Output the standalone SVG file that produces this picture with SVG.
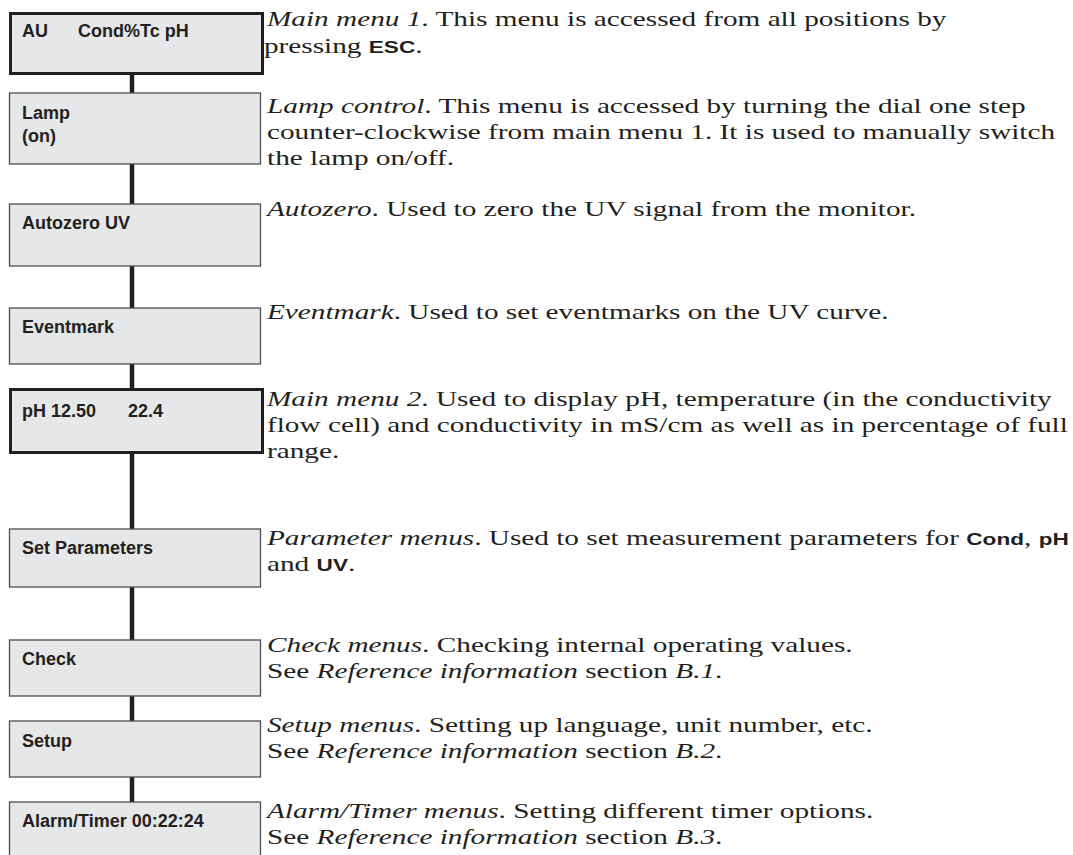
<svg xmlns="http://www.w3.org/2000/svg" width="1073" height="855" viewBox="0 0 1073 855">
<style>
.box{fill:#e6e7e8;stroke:#4d4d4f;stroke-width:1.3}
.main{fill:#e6e7e8;stroke:#231f20;stroke-width:3}
.lbl{font-family:"Liberation Sans",Arial,sans-serif;font-weight:bold;font-size:18px;fill:#231f20}
.d{font-family:"Liberation Serif","Times New Roman",serif;font-size:22px;fill:#231f20}
.i{font-style:italic}
.b{font-family:"Liberation Sans",Arial,sans-serif;font-weight:bold;font-size:17px}
.c{stroke:#231f20;stroke-width:4.5;fill:none}
</style>
<rect width="1073" height="855" fill="#ffffff"/>
<g id="connectors">
<line class="c" x1="132" y1="74" x2="132" y2="93"/>
<line class="c" x1="132" y1="164" x2="132" y2="204"/>
<line class="c" x1="132" y1="266" x2="132" y2="308"/>
<line class="c" x1="132" y1="364" x2="132" y2="389"/>
<line class="c" x1="132" y1="453" x2="132" y2="529"/>
<line class="c" x1="132" y1="587" x2="132" y2="640"/>
<line class="c" x1="132" y1="696" x2="132" y2="721"/>
<line class="c" x1="132" y1="777" x2="132" y2="802"/>
</g>
<g id="main1">
<rect class="main" x="10.5" y="13.5" width="252" height="60"/>
<text class="lbl" y="37"><tspan x="22">AU</tspan><tspan x="78">Cond%Tc pH</tspan></text>
<g transform="translate(267 0) scale(1.33 1)">
<text class="d" x="0" y="26"><tspan class="i">Main menu 1</tspan>. This menu is accessed from all positions by</text>
<text class="d" x="-2.3" y="53">pressing <tspan class="b">ESC</tspan>.</text>
</g>
</g>
<g id="lamp">
<rect class="box" x="9.5" y="93" width="251" height="71"/>
<text class="lbl" x="22" y="119">Lamp</text>
<text class="lbl" x="22" y="142">(on)</text>
<g transform="translate(267 0) scale(1.33 1)">
<text class="d" x="0" y="113"><tspan class="i">Lamp control</tspan>. This menu is accessed by turning the dial one step</text>
<text class="d" x="0" y="139">counter-clockwise from main menu 1. It is used to manually switch</text>
<text class="d" x="0" y="165">the lamp on/off.</text>
</g>
</g>
<g id="autozero">
<rect class="box" x="9.5" y="204" width="251" height="62"/>
<text class="lbl" x="22" y="229">Autozero UV</text>
<g transform="translate(267 0) scale(1.33 1)">
<text class="d" x="0" y="216"><tspan class="i">Autozero</tspan>. Used to zero the UV signal from the monitor.</text>
</g>
</g>
<g id="eventmark">
<rect class="box" x="9.5" y="308" width="251" height="56"/>
<text class="lbl" x="22" y="333">Eventmark</text>
<g transform="translate(267 0) scale(1.33 1)">
<text class="d" x="0" y="319"><tspan class="i">Eventmark</tspan>. Used to set eventmarks on the UV curve.</text>
</g>
</g>
<g id="main2">
<rect class="main" x="10.5" y="389.5" width="252" height="63"/>
<text class="lbl" y="417"><tspan x="22">pH 12.50</tspan><tspan x="128">22.4</tspan></text>
<g transform="translate(267 0) scale(1.33 1)">
<text class="d" x="0" y="406"><tspan class="i">Main menu 2</tspan>. Used to display pH, temperature (in the conductivity</text>
<text class="d" x="0" y="432">flow cell) and conductivity in mS/cm as well as in percentage of full</text>
<text class="d" x="0" y="458">range.</text>
</g>
</g>
<g id="parameters">
<rect class="box" x="9.5" y="529" width="251" height="58"/>
<text class="lbl" x="22" y="554">Set Parameters</text>
<g transform="translate(267 0) scale(1.33 1)">
<text class="d" x="0" y="545"><tspan class="i">Parameter menus</tspan>. Used to set measurement parameters for <tspan class="b">Cond</tspan>, <tspan class="b">pH</tspan></text>
<text class="d" x="0" y="571">and <tspan class="b">UV</tspan>.</text>
</g>
</g>
<g id="check">
<rect class="box" x="9.5" y="640" width="251" height="56"/>
<text class="lbl" x="22" y="665">Check</text>
<g transform="translate(267 0) scale(1.33 1)">
<text class="d" x="0" y="652"><tspan class="i">Check menus</tspan>. Checking internal operating values.</text>
<text class="d" x="0" y="678">See <tspan class="i">Reference information</tspan> section <tspan class="i">B.1</tspan>.</text>
</g>
</g>
<g id="setup">
<rect class="box" x="9.5" y="721" width="251" height="56"/>
<text class="lbl" x="22" y="747">Setup</text>
<g transform="translate(267 0) scale(1.33 1)">
<text class="d" x="0" y="732"><tspan class="i">Setup menus</tspan>. Setting up language, unit number, etc.</text>
<text class="d" x="0" y="758">See <tspan class="i">Reference information</tspan> section <tspan class="i">B.2</tspan>.</text>
</g>
</g>
<g id="alarm">
<rect class="box" x="9.5" y="802" width="251" height="70"/>
<text class="lbl" x="22" y="827">Alarm/Timer 00:22:24</text>
<g transform="translate(267 0) scale(1.33 1)">
<text class="d" x="0" y="818"><tspan class="i">Alarm/Timer menus</tspan>. Setting different timer options.</text>
<text class="d" x="0" y="844">See <tspan class="i">Reference information</tspan> section <tspan class="i">B.3</tspan>.</text>
</g>
</g>
</svg>
